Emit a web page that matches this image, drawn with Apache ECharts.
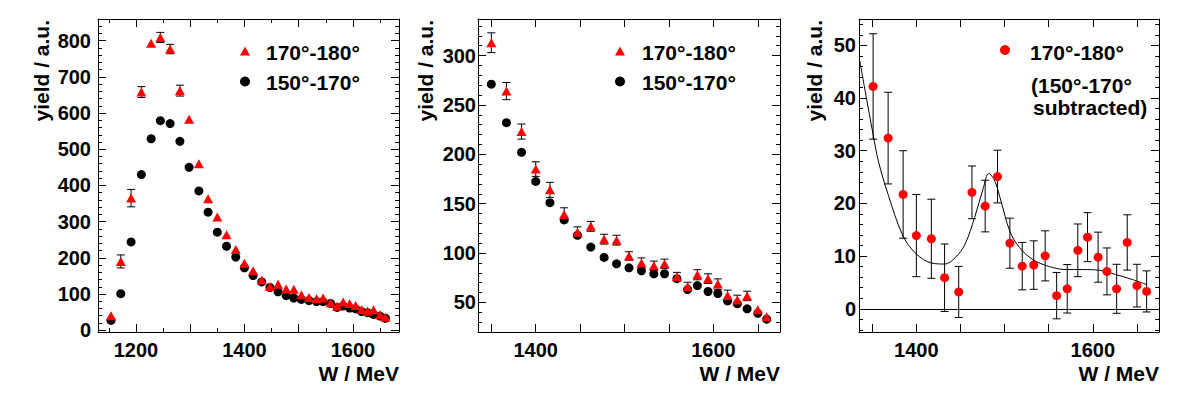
<!DOCTYPE html>
<html>
<head>
<meta charset="utf-8">
<script src="https://cdn.jsdelivr.net/npm/echarts@6/dist/echarts.min.js"></script>
<style>
  html, body { margin: 0; padding: 0; background: #fff; }
  #chart { width: 1181px; height: 393px; }
</style>
</head>
<body>
<div id="chart"></div>
<script>
// W bins (MeV), shared by the left and middle panels
const wBins = [1154, 1172, 1191, 1210, 1228, 1245, 1263, 1281, 1298, 1316, 1333, 1350, 1367, 1384, 1400, 1416, 1432, 1447, 1462, 1477, 1491, 1505, 1519, 1533, 1545, 1559, 1571, 1582, 1594, 1605, 1616, 1627, 1638, 1650, 1660]
// 170-180 deg (red triangles) with errors
const yield170 = [40, 190, 365, 658, 793, 809, 777, 662, 583, 460, 363, 313, 264, 223, 185, 164, 139, 121, 127, 114, 113, 97, 90, 87, 89, 76, 66, 78, 74, 68.5, 57, 52.5, 56.5, 42.5, 35.5]
const err170 = [6, 18, 24, 15, 8, 14, 13, 15, 10, 9, 9, 10, 8.7, 7.6, 7.4, 7.6, 6.8, 5.5, 5, 5, 5, 4.3, 5, 4.8, 4.8, 4.4, 4.4, 5.1, 4.9, 5.3, 5.4, 4.8, 4.8, 3.9, 3.8]
// 150-170 deg (black dots)
const yield150 = [27, 101, 244, 430, 529, 579, 571, 522, 450, 385, 326, 271, 232, 202, 172.5, 151, 133.5, 118, 106, 95.5, 89, 85, 82, 79, 79, 74, 63, 67, 61, 59, 51.5, 48.5, 43.5, 39, 33]

// right panel: 170-180 with 150-170 subtracted
const wSub = [1351, 1368, 1385, 1400, 1417, 1432, 1448, 1463, 1478, 1492, 1506, 1520, 1533, 1546, 1559, 1571, 1583, 1594, 1606, 1616, 1627, 1639, 1650, 1661]
const ySub = [42.2, 32.4, 21.7, 13.9, 13.3, 5.9, 3.2, 22.1, 19.5, 25.1, 12.45, 8.1, 8.3, 10.05, 2.5, 3.8, 11.1, 13.6, 9.8, 7.1, 3.8, 12.6, 4.4, 3.3]
const errSub = [10, 8.7, 8.3, 7.8, 7.5, 6.4, 4.85, 5, 4.9, 5, 4.75, 4.5, 4.6, 4.75, 4.4, 4.6, 5, 4.65, 4.75, 4.45, 4.65, 5.25, 4.05, 3.9]

// fit curve
const fitW = [1336, 1342, 1351, 1357, 1368, 1385, 1400, 1417, 1432, 1444, 1455, 1466, 1476, 1482, 1489, 1496, 1506, 1517, 1532, 1551, 1570, 1589, 1608, 1626, 1645, 1661]
const fitY = [47, 41.3, 33.1, 28, 21.7, 13.8, 10.4, 8.7, 8.5, 9.7, 12.2, 17.3, 23, 25.7, 24.2, 20.4, 14.7, 11.6, 9.35, 8.0, 7.45, 7.45, 7.3, 6.5, 5.55, 4.6]

// tick labels
const xTicks1 = [1200, 1400, 1600]
const yTicks1 = [0, 100, 200, 300, 400, 500, 600, 700, 800]
const xTicks2 = [1400, 1600]
const yTicks2 = [50, 100, 150, 200, 250, 300]
const yTicks3 = [0, 10, 20, 30, 40, 50]

const FONT = '"Liberation Sans", Arial, Helvetica, sans-serif'
const RED = '#ff0000'

const chart = echarts.init(document.getElementById('chart'), null, { renderer: 'svg' })

const grids = [
  { left: 98, top: 19, width: 301, height: 313 },
  { left: 478, top: 19, width: 302, height: 313 },
  { left: 859, top: 19, width: 300, height: 313 }
]

const tickLine = { color: '#000', width: 1 }

function makeAxes(dim, gi, min, max, step, minor, labels, labelMargin) {
  const base = {
    type: 'value',
    gridIndex: gi,
    min: min,
    max: max,
    minInterval: step,
    maxInterval: step,
    scale: true,
    splitLine: { show: false },
    axisLine: { show: true, onZero: false, lineStyle: { color: '#000', width: 1 } },
    axisTick: { show: true, inside: true, length: 8, lineStyle: tickLine },
    minorTick: { show: minor > 1, splitNumber: minor, length: 4, lineStyle: tickLine }
  }
  const main = Object.assign({}, base, {
    position: dim === 'x' ? 'bottom' : 'left',
    axisLabel: {
      show: true,
      margin: labelMargin,
      color: '#000',
      fontFamily: FONT,
      fontWeight: 'bold',
      fontSize: 20,
      hideOverlap: false,
      formatter: v => labels.indexOf(Math.round(v * 100) / 100) >= 0 ? String(Math.round(v)) : ''
    }
  })
  const mirror = Object.assign({}, base, {
    position: dim === 'x' ? 'top' : 'right',
    axisLabel: { show: false }
  })
  return [main, mirror]
}

const xAxis = [].concat(
  makeAxes('x', 0, 1130, 1685, 100, 2, xTicks1, 8),
  makeAxes('x', 1, 1335, 1675, 50, 1, xTicks2, 8),
  makeAxes('x', 2, 1335, 1675, 50, 1, xTicks2, 8)
)
const yAxis = [].concat(
  makeAxes('y', 0, -5, 860, 100, 5, yTicks1, 7),
  makeAxes('y', 1, 20, 337, 50, 5, yTicks2, 2),
  makeAxes('y', 2, -4.4, 55, 10, 5, yTicks3, 3)
)

// error bar like ROOT: nothing drawn where the error hides inside the marker
function errBars(params, api) {
  const x = api.value(0)
  const mid = api.coord([x, api.value(1)])
  const lo = api.coord([x, api.value(2)])
  const hi = api.coord([x, api.value(3)])
  const c = 4
  const hide = 4
  const st = { stroke: '#000', lineWidth: 1 }
  const kids = []
  if (mid[1] - hi[1] > hide) {
    kids.push({ type: 'line', shape: { x1: mid[0], y1: mid[1], x2: hi[0], y2: hi[1] }, style: st })
    kids.push({ type: 'line', shape: { x1: hi[0] - c, y1: hi[1], x2: hi[0] + c, y2: hi[1] }, style: st })
  }
  if (lo[1] - mid[1] > hide) {
    kids.push({ type: 'line', shape: { x1: mid[0], y1: mid[1], x2: lo[0], y2: lo[1] }, style: st })
    kids.push({ type: 'line', shape: { x1: lo[0] - c, y1: lo[1], x2: lo[0] + c, y2: lo[1] }, style: st })
  }
  return { type: 'group', children: kids }
}

function panelSeries(ax, wMin) {
  const idx = wBins.map((w, i) => i).filter(i => wBins[i] >= wMin)
  return [
    {
      type: 'scatter', xAxisIndex: ax, yAxisIndex: ax, z: 2,
      symbol: 'circle', symbolSize: 9,
      itemStyle: { color: '#000', opacity: 1 },
      data: idx.map(i => [wBins[i], yield150[i]])
    },
    {
      type: 'custom', xAxisIndex: ax, yAxisIndex: ax, z: 3, clip: true,
      renderItem: errBars,
      data: idx.map(i => [wBins[i], yield170[i], yield170[i] - err170[i], yield170[i] + err170[i]])
    },
    {
      type: 'scatter', xAxisIndex: ax, yAxisIndex: ax, z: 4,
      symbol: 'triangle', symbolSize: [10, 9],
      itemStyle: { color: RED, opacity: 1 },
      data: idx.map(i => [wBins[i], yield170[i]])
    }
  ]
}

const series = [].concat(
  panelSeries(0, 0),
  panelSeries(2, 1340),
  [
    {
      type: 'line', xAxisIndex: 4, yAxisIndex: 4, z: 2,
      smooth: 0.35, showSymbol: false, symbol: 'none',
      lineStyle: { color: '#000', width: 1 },
      data: fitW.map((w, i) => [w, fitY[i]]),
      markLine: {
        silent: true, symbol: 'none', animation: false,
        label: { show: false },
        lineStyle: { color: '#000', width: 1, type: 'solid' },
        data: [{ yAxis: 0 }]
      }
    },
    {
      type: 'custom', xAxisIndex: 4, yAxisIndex: 4, z: 3, clip: true,
      renderItem: errBars,
      data: wSub.map((w, i) => [w, ySub[i], ySub[i] - errSub[i], ySub[i] + errSub[i]])
    },
    {
      type: 'scatter', xAxisIndex: 4, yAxisIndex: 4, z: 4,
      symbol: 'circle', symbolSize: 9,
      itemStyle: { color: RED, opacity: 1 },
      data: wSub.map((w, i) => [w, ySub[i]])
    }
  ]
)

const bold21 = 'bold 21px ' + FONT

function txt(x, y, s, align) {
  return { type: 'text', x: x, y: y, style: { text: s, font: bold21, fill: '#000', textAlign: align || 'left', textVerticalAlign: 'middle' } }
}
function yTitle(x) {
  return { type: 'text', x: x, y: 20, rotation: Math.PI / 2, style: { text: 'yield / a.u.', font: bold21, fill: '#000', textAlign: 'right', textVerticalAlign: 'middle' } }
}
function tri(cx, cy, color) {
  return { type: 'polygon', shape: { points: [[cx - 5, cy + 4.5], [cx + 5, cy + 4.5], [cx, cy - 4.5]] }, style: { fill: color } }
}
function dot(cx, cy, color) {
  return { type: 'circle', shape: { cx: cx, cy: cy, r: 5 }, style: { fill: color } }
}

const graphic = [
  yTitle(41), yTitle(425), yTitle(814),
  txt(399, 373, 'W / MeV', 'right'),
  txt(780, 373, 'W / MeV', 'right'),
  txt(1159, 373, 'W / MeV', 'right'),
  // legend, left panel
  tri(245, 51, RED), txt(266, 52, '170°-180°'),
  dot(245, 81.5, '#000'), txt(266, 82, '150°-170°'),
  // legend, middle panel
  tri(620, 51, RED), txt(642, 52, '170°-180°'),
  dot(620, 81.5, '#000'), txt(642, 82, '150°-170°'),
  // legend, right panel
  dot(1005, 50, RED), txt(1030, 52, '170°-180°'),
  txt(1031, 85.5, '(150°-170°'),
  txt(1033, 107.5, 'subtracted)')
]

chart.setOption({
  animation: false,
  backgroundColor: '#fff',
  grid: grids,
  xAxis: xAxis,
  yAxis: yAxis,
  series: series,
  graphic: graphic
})
</script>
</body>
</html>
